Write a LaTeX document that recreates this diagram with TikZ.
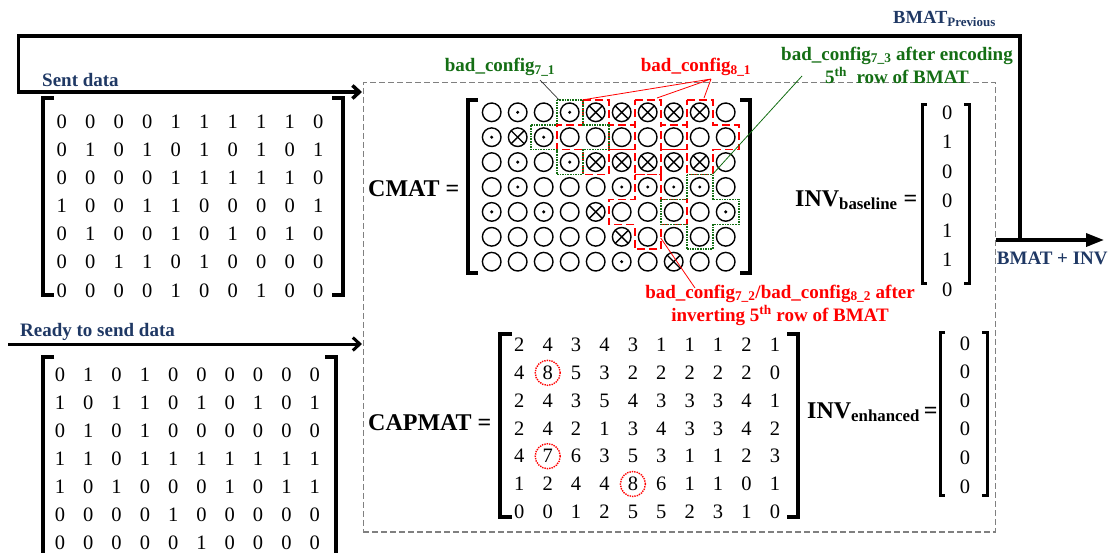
\documentclass[tikz,border=0pt]{standalone}
\usepackage{fontspec}
\setmainfont{Liberation Serif}
\usetikzlibrary{arrows.meta,calc}
\definecolor{navy}{RGB}{31,56,100}
\definecolor{dgreen}{RGB}{20,110,20}
\definecolor{dgray}{RGB}{128,128,128}
\begin{document}
\begin{tikzpicture}[x=1pt,y=-1pt,
  num/.style={font=\fontsize{20.5}{22}\selectfont, inner sep=0pt},
  lab/.style={font=\fontsize{19}{23}\selectfont\bfseries, inner sep=0pt},
  big/.style={font=\fontsize{24}{28}\selectfont\bfseries, inner sep=0pt},
  brk/.style={line width=3.8pt, line join=miter},
  sbrk/.style={line width=3pt, line join=miter},
  cell/.style={circle, draw, line width=1.4pt, minimum size=18.6pt, inner sep=0pt, outer sep=0pt},
  gcross/.style={dgreen, line width=1.6pt, densely dotted},
  rcross/.style={red, line width=1.6pt, dash pattern=on 8pt off 4pt},
  flow/.style={line width=3.5pt, line join=miter},
  thinred/.style={red, line width=0.8pt},
]
\useasboundingbox (0,0) rectangle (1111,552);
\clip (0,0) rectangle (1111,552);

% ---------- dashed frame ----------
\node[draw=dgray, dash pattern=on 6pt off 3pt, line width=1.5pt, minimum width=632pt, minimum height=449.5pt, inner sep=0pt, anchor=north west] (box) at (362.7,81.7) {};

% ---------- Sent data ----------
\node[lab, text=navy, anchor=west] (sent) at (42,80) {Sent data};
\foreach \row [count=\i] in {{0,0,0,0,1,1,1,1,1,0},{0,1,0,1,0,1,0,1,0,1},{0,0,0,0,1,1,1,1,1,0},{1,0,0,1,1,0,0,0,0,1},{0,1,0,0,1,0,1,0,1,0},{0,0,1,1,0,1,0,0,0,0},{0,0,0,0,1,0,0,1,0,0}}
  \foreach \v [count=\j] in \row
    \node[num] (s-\i-\j) at ({61.7+28.5*(\j-1)},{121.7+28.1*(\i-1)}) {\v};
\draw[brk] (54,98) -- (43,98) -- (43,295) -- (54,295);
\draw[brk] (332,98) -- (343,98) -- (343,295) -- (332,295);

% ---------- Ready to send data ----------
\node[lab, text=navy, anchor=west] (ready) at (20,331.7) {Ready to send data};
\foreach \row [count=\i] in {{0,1,0,1,0,0,0,0,0,0},{1,0,1,1,0,1,0,1,0,1},{0,1,0,1,0,0,0,0,0,0},{1,1,0,1,1,1,1,1,1,1},{1,0,1,0,0,0,1,0,1,1},{0,0,0,0,1,0,0,0,0,0},{0,0,0,0,0,1,0,0,0,0}}
  \foreach \v [count=\j] in \row
    \node[num] (r-\i-\j) at ({60+28.3*(\j-1)},{375+28.0*(\i-1)}) {\v};
\draw[brk] (54,357) -- (43,357) -- (43,600);
\draw[brk] (325,357) -- (336,357) -- (336,600);

% ---------- arrows ----------
\coordinate (outj) at (1020,240);
\coordinate (outend) at (1104,240);
\coordinate (fb1) at (1020,36);
\coordinate (fb2) at (18.5,36);
\coordinate (fb3) at (18.5,92);
\coordinate (sentin) at (362,92);
\coordinate (readyst) at (8,344);
\coordinate (readyin) at (362,344);
\draw[flow, -{Triangle[length=18pt,width=13pt]}] (box.east |- outj) -- (outend);
\draw[flow, -{Straight Barb[length=7pt,width=13pt]}] (outj) -- (fb1) -- (fb2) -- (fb3) -- (sentin);
\draw[line width=3pt, -{Straight Barb[length=7pt,width=13pt]}] (readyst) -- (readyin);
\node[text=navy, font=\fontsize{18.5}{22}\selectfont\bfseries, inner sep=0pt, anchor=west] (prev) at (893,19) {BMAT\textsubscript{Previous}};
\node[text=navy, font=\fontsize{19}{22}\selectfont\bfseries, inner sep=0pt, anchor=west] (bi) at (996.7,258.3) {BMAT + INV};

% ---------- CMAT ----------
\node[big, anchor=base west] (cmat) at (368,196) {CMAT =};
\foreach \row [count=\i] in {{0,1,0,1,2,2,2,2,2,0},{1,2,1,0,0,0,0,0,0,0},{0,1,0,1,2,2,2,2,2,0},{0,1,0,0,0,1,1,1,1,0},{1,0,1,0,2,0,0,0,0,1},{0,0,0,0,0,2,0,0,0,0},{0,0,0,0,0,1,0,2,0,0}}
  \foreach \ty [count=\j] in \row {
    \node[cell] (cm-\i-\j) at ({491.7+26*(\j-1)},{112.3+24.9*(\i-1)}) {};
    \ifnum\ty=1 \fill (cm-\i-\j) circle (1.7pt); \fi
    \ifnum\ty=2 \draw[line width=1.4pt] (cm-\i-\j.north west) -- (cm-\i-\j.south east) (cm-\i-\j.north east) -- (cm-\i-\j.south west); \fi
  }
\draw[brk] (478,100) -- (468,100) -- (468,273) -- (478,273);
\draw[brk] (740,100) -- (750,100) -- (750,273) -- (740,273);

% plus-shaped outlines
\newcommand\plusout[3]{\draw[#1] (cm-#2-#3) ++(-13,-37.35) -- ++(26,0) -- ++(0,24.9) -- ++(26,0) -- ++(0,24.9) -- ++(-26,0) -- ++(0,24.9) -- ++(-26,0) -- ++(0,-24.9) -- ++(-26,0) -- ++(0,-24.9) -- ++(26,0) -- cycle;}
\plusout{rcross}{2}{5}
\plusout{rcross}{2}{7}
\plusout{rcross}{2}{9}
\plusout{rcross}{5}{7}
\plusout{gcross}{2}{4}
\plusout{gcross}{5}{9}

% ---------- labels on CMAT ----------
\node[lab, text=dgreen] (g1) at (500,67) {bad\_config\textsubscript{7\_1}};
\node[lab, text=red] (r1) at (696,67) {bad\_config\textsubscript{8\_1}};
\node[lab, text=dgreen, align=center] (g3) at (897,65) {bad\_config\textsubscript{7\_3} after encoding\\5\textsuperscript{th}\ \ row of BMAT};
\node[lab, text=red, align=center] (r2) at (780,305) {bad\_config\textsubscript{7\_2}/bad\_config\textsubscript{8\_2} after\\inverting 5\textsuperscript{th} row of BMAT};
\coordinate (g1a) at (540,80);
\coordinate (g1b) at (559,99.85);
\draw[line width=0.7pt, black!80] (g1a) -- (g1b);
\coordinate (r1a) at (711,79);
\coordinate (r1b) at (582.7,99.85);
\coordinate (r1c) at (657,98);
\coordinate (r1d) at (704,98);
\draw[thinred] (r1a) -- (r1b) (r1a) -- (r1c) (r1a) -- (r1d);
\coordinate (g3a) at (712.7,174.2);
\coordinate (g3b) at (802,76);
\draw[dgreen, line width=0.8pt] (g3a) -- (g3b);
\coordinate (r2a) at (660.7,238);
\coordinate (r2b) at (695,288);
\draw[thinred] (r2a) -- (r2b);

% ---------- INV baseline ----------
\node[big, anchor=base west] (invb) at (795,206) {INV\textsubscript{baseline} =};
\foreach \v [count=\i] in {0,1,0,0,1,1,0}
  \node[num] (ib-\i) at (947.3,{112.3+29.5*(\i-1)}) {\v};
\draw[sbrk] (927,104) -- (922,104) -- (922,283) -- (927,283);
\draw[sbrk] (964,104) -- (969,104) -- (969,283) -- (964,283);

% ---------- CAPMAT ----------
\node[big, anchor=base west] (capmat) at (368,430) {CAPMAT =};
\foreach \row [count=\i] in {{2,4,3,4,3,1,1,1,2,1},{4,8,5,3,2,2,2,2,2,0},{2,4,3,5,4,3,3,3,4,1},{2,4,2,1,3,4,3,3,4,2},{4,7,6,3,5,3,1,1,2,3},{1,2,4,4,8,6,1,1,0,1},{0,0,1,2,5,5,2,3,1,0}}
  \foreach \v [count=\j] in \row
    \node[num] (cp-\i-\j) at ({519.3+28.4*(\j-1)},{345+27.8*(\i-1)}) {\v};
\draw[brk] (512,334) -- (500,334) -- (500,517) -- (512,517);
\draw[brk] (787,334) -- (798,334) -- (798,517) -- (787,517);
\draw[red, line width=1.4pt, densely dotted] (cp-2-2) circle (12.5pt);
\draw[red, line width=1.4pt, densely dotted] (cp-5-2) circle (12.5pt);
\draw[red, line width=1.4pt, densely dotted] (cp-6-5) circle (12.5pt);

% ---------- INV enhanced ----------
\node[big, anchor=base west] (inve) at (807,418) {INV\textsubscript{enhanced}\,=};
\foreach \i in {1,...,6}
  \node[num] (ie-\i) at (965,{343.3+28.6*(\i-1)}) {0};
\draw[sbrk] (945,332) -- (940,332) -- (940,495) -- (945,495);
\draw[sbrk] (982,332) -- (987,332) -- (987,495) -- (982,495);
\end{tikzpicture}
\end{document}
